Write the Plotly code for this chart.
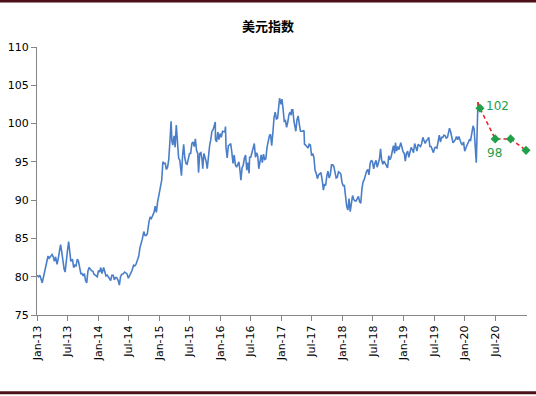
import plotly.graph_objects as go

# ---- data: US Dollar Index ----
dates_2013 = ["2013-01-02","2013-01-10","2013-01-18","2013-02-01","2013-02-08","2013-02-15","2013-02-22","2013-03-01","2013-03-08","2013-03-15","2013-03-22","2013-04-01","2013-04-08","2013-04-15","2013-04-22","2013-05-01","2013-05-08","2013-05-15","2013-05-22","2013-05-29","2013-06-05","2013-06-12","2013-06-18","2013-06-25","2013-07-01","2013-07-09","2013-07-15","2013-07-22","2013-08-01","2013-08-08","2013-08-15","2013-08-22","2013-08-30","2013-09-06","2013-09-13","2013-09-20","2013-09-27","2013-10-04","2013-10-11","2013-10-18","2013-10-25","2013-11-01","2013-11-08","2013-11-15","2013-11-22","2013-12-01","2013-12-08","2013-12-15","2013-12-27"]
dxy_2013 = [80.2,80.0,80.2,79.2,79.9,80.6,81.5,82.2,82.7,82.4,82.6,82.9,82.6,82.0,82.6,81.6,82.4,83.7,84.2,83.2,82.0,81.0,80.6,82.6,83.2,84.6,83.2,82.0,82.3,81.2,81.5,81.4,82.3,82.0,81.2,80.4,80.4,80.1,80.4,79.5,79.2,80.7,81.2,80.9,80.8,80.7,80.3,80.2,80.0]

dates_2014 = ["2014-01-03","2014-01-10","2014-01-17","2014-01-24","2014-02-03","2014-02-10","2014-02-17","2014-02-24","2014-03-03","2014-03-10","2014-03-17","2014-03-24","2014-04-01","2014-04-08","2014-04-15","2014-04-22","2014-05-01","2014-05-08","2014-05-15","2014-05-22","2014-06-01","2014-06-08","2014-06-15","2014-06-22","2014-07-01","2014-07-08","2014-07-15","2014-07-22","2014-08-01","2014-08-08","2014-08-15","2014-08-22","2014-09-01","2014-09-08","2014-09-15","2014-09-22","2014-10-01","2014-10-08","2014-10-15","2014-10-22","2014-11-01","2014-11-08","2014-11-15","2014-11-22","2014-12-01","2014-12-08","2014-12-15","2014-12-22"]
dxy_2014 = [80.8,80.6,81.2,80.4,81.2,80.5,80.1,80.2,80.0,79.7,79.5,80.2,80.2,79.6,79.9,79.9,79.5,78.9,80.0,80.3,80.4,80.6,80.5,80.4,79.8,80.1,80.5,80.8,81.5,81.4,81.6,82.2,82.7,83.8,84.3,84.9,85.9,85.4,85.4,85.6,87.2,87.8,87.6,88.0,88.4,89.2,88.4,89.7]

dates_2015 = ["2015-01-02","2015-01-09","2015-01-16","2015-01-23","2015-01-30","2015-02-06","2015-02-13","2015-02-20","2015-02-27","2015-03-06","2015-03-13","2015-03-18","2015-03-23","2015-03-31","2015-04-06","2015-04-13","2015-04-20","2015-04-27","2015-05-04","2015-05-14","2015-05-20","2015-05-27","2015-06-03","2015-06-10","2015-06-17","2015-06-24","2015-07-01","2015-07-08","2015-07-15","2015-07-22","2015-07-29","2015-08-05","2015-08-12","2015-08-19","2015-08-24","2015-08-31","2015-09-07","2015-09-14","2015-09-18","2015-09-25","2015-10-02","2015-10-09","2015-10-15","2015-10-22","2015-10-29","2015-11-05","2015-11-12","2015-11-19","2015-11-26","2015-12-02","2015-12-03","2015-12-10","2015-12-17","2015-12-24","2015-12-31"]
dxy_2015 = [91.1,92.0,92.6,95.0,94.8,94.8,94.0,94.3,95.3,97.7,100.3,97.7,97.2,98.4,96.9,99.8,97.4,95.5,95.2,93.2,95.6,97.3,95.5,94.8,94.7,95.7,96.1,96.1,97.4,97.6,97.0,98.0,96.5,96.1,93.6,96.1,96.2,95.3,94.1,96.1,95.6,95.0,94.1,96.1,97.1,97.9,99.0,99.2,99.8,100.2,97.9,97.6,98.9,97.9,98.7]

dates_2016 = ["2016-01-07","2016-01-14","2016-01-21","2016-01-28","2016-02-01","2016-02-04","2016-02-11","2016-02-18","2016-02-25","2016-03-03","2016-03-10","2016-03-17","2016-03-24","2016-03-31","2016-04-07","2016-04-14","2016-04-21","2016-04-28","2016-05-03","2016-05-10","2016-05-17","2016-05-24","2016-05-31","2016-06-07","2016-06-14","2016-06-21","2016-06-24","2016-07-01","2016-07-08","2016-07-15","2016-07-22","2016-07-29","2016-08-05","2016-08-12","2016-08-18","2016-08-25","2016-09-01","2016-09-08","2016-09-15","2016-09-22","2016-09-29","2016-10-06","2016-10-13","2016-10-20","2016-10-27","2016-11-03","2016-11-10","2016-11-17","2016-11-24","2016-12-01","2016-12-08","2016-12-15","2016-12-20","2016-12-29"]
dxy_2016 = [98.2,99.0,98.9,98.9,99.6,96.9,95.5,97.1,97.2,97.4,96.2,94.8,95.9,94.6,94.3,94.8,95.0,93.8,92.6,94.2,94.6,95.5,95.9,93.9,94.9,93.5,95.6,95.6,96.3,96.6,97.4,95.6,96.2,95.7,94.1,95.0,95.9,94.9,96.0,95.3,95.4,96.9,97.6,98.4,98.6,97.1,98.8,100.8,101.5,100.6,100.7,102.9,103.3,102.5]

dates_2017 = ["2017-01-03","2017-01-10","2017-01-17","2017-01-24","2017-01-31","2017-02-07","2017-02-14","2017-02-21","2017-02-28","2017-03-02","2017-03-09","2017-03-16","2017-03-23","2017-03-27","2017-04-03","2017-04-10","2017-04-17","2017-04-24","2017-05-01","2017-05-08","2017-05-15","2017-05-18","2017-05-25","2017-06-01","2017-06-08","2017-06-15","2017-06-22","2017-06-29","2017-07-06","2017-07-13","2017-07-20","2017-07-27","2017-08-03","2017-08-10","2017-08-17","2017-08-24","2017-08-31","2017-09-08","2017-09-14","2017-09-21","2017-09-28","2017-10-05","2017-10-12","2017-10-19","2017-10-26","2017-11-02","2017-11-09","2017-11-16","2017-11-23","2017-11-30","2017-12-07","2017-12-14","2017-12-21","2017-12-28"]
dxy_2017 = [103.2,101.9,100.3,100.4,99.5,100.2,101.2,101.5,101.1,101.8,101.8,100.3,99.7,99.0,100.5,101.0,99.9,99.0,99.0,99.0,99.1,97.3,97.2,96.9,96.8,97.3,97.2,95.8,96.1,95.6,93.9,93.5,92.8,93.3,93.5,93.6,92.7,91.3,92.1,91.9,93.1,93.8,92.9,93.3,94.6,94.6,94.4,93.8,92.9,93.0,93.7,93.6,93.4,92.3]

dates_2018 = ["2018-01-04","2018-01-11","2018-01-18","2018-01-25","2018-02-01","2018-02-08","2018-02-15","2018-02-22","2018-03-01","2018-03-08","2018-03-15","2018-03-22","2018-03-29","2018-04-05","2018-04-12","2018-04-19","2018-04-26","2018-05-03","2018-05-10","2018-05-17","2018-05-24","2018-05-31","2018-06-07","2018-06-14","2018-06-21","2018-06-28","2018-07-05","2018-07-12","2018-07-19","2018-07-26","2018-08-02","2018-08-09","2018-08-15","2018-08-22","2018-08-29","2018-09-05","2018-09-12","2018-09-19","2018-09-26","2018-10-03","2018-10-10","2018-10-17","2018-10-24","2018-10-31","2018-11-07","2018-11-12","2018-11-19","2018-11-26","2018-12-03","2018-12-10","2018-12-14","2018-12-21","2018-12-28"]
dxy_2018 = [91.9,91.9,90.5,89.2,88.7,90.2,88.5,89.9,90.6,90.1,89.9,89.9,90.2,90.5,89.8,89.6,91.5,92.4,92.7,93.5,93.8,94.0,93.3,94.8,95.2,95.0,94.1,94.8,95.2,94.3,95.1,95.4,96.7,95.2,94.7,95.1,94.8,94.5,94.2,95.8,95.3,95.6,96.3,97.1,96.1,97.5,96.4,97.0,96.6,97.2,97.5,96.9,96.3]

dates_2019 = ["2019-01-04","2019-01-10","2019-01-17","2019-01-24","2019-01-31","2019-02-07","2019-02-14","2019-02-21","2019-02-28","2019-03-07","2019-03-14","2019-03-21","2019-03-28","2019-04-04","2019-04-11","2019-04-18","2019-04-25","2019-05-02","2019-05-09","2019-05-16","2019-05-23","2019-05-30","2019-06-06","2019-06-13","2019-06-20","2019-06-27","2019-07-04","2019-07-11","2019-07-18","2019-07-25","2019-08-01","2019-08-08","2019-08-15","2019-08-22","2019-08-29","2019-09-05","2019-09-12","2019-09-19","2019-09-26","2019-10-01","2019-10-08","2019-10-15","2019-10-22","2019-10-29","2019-11-05","2019-11-12","2019-11-19","2019-11-26","2019-12-03","2019-12-10","2019-12-17","2019-12-24","2019-12-31"]
dxy_2019 = [96.1,95.1,96.1,96.4,95.6,96.5,96.9,96.6,96.2,97.4,96.8,96.4,97.3,97.1,97.0,97.4,98.2,97.8,97.4,97.8,97.9,98.2,97.0,97.0,96.6,96.2,96.8,96.9,96.8,97.7,98.5,97.6,98.2,98.2,98.5,98.4,98.1,98.2,99.1,99.4,98.9,98.3,97.5,97.7,97.9,98.3,97.9,98.3,97.7,97.4,97.2,97.6,96.4]

dates_2020 = ["2020-01-07","2020-01-14","2020-01-21","2020-01-28","2020-02-04","2020-02-11","2020-02-19","2020-02-25","2020-03-02","2020-03-09","2020-03-11","2020-03-13","2020-03-16","2020-03-18","2020-03-19"]
dxy_2020 = [96.9,97.2,97.5,97.9,97.8,98.7,99.7,99.3,97.4,94.9,96.5,98.7,98.0,101.3,102.8]

# forecast points
fc_dates = ["2020-03-31","2020-06-30","2020-09-30","2020-12-31"]
fc_values = [102, 98, 98, 96.5]

# axis ticks
x_tick_vals = ["2013-01-01","2013-07-01","2014-01-01","2014-07-01","2015-01-01","2015-07-01","2016-01-01","2016-07-01","2017-01-01","2017-07-01","2018-01-01","2018-07-01","2019-01-01","2019-07-01","2020-01-01","2020-07-01"]
x_tick_text = ["Jan-13","Jul-13","Jan-14","Jul-14","Jan-15","Jul-15","Jan-16","Jul-16","Jan-17","Jul-17","Jan-18","Jul-18","Jan-19","Jul-19","Jan-20","Jul-20"]
y_tick_vals = [75, 80, 85, 90, 95, 100, 105, 110]

title_text = "美元指数"

# ---- build ----
dates = dates_2013 + dates_2014 + dates_2015 + dates_2016 + dates_2017 + dates_2018 + dates_2019 + dates_2020
values = dxy_2013 + dxy_2014 + dxy_2015 + dxy_2016 + dxy_2017 + dxy_2018 + dxy_2019 + dxy_2020

fig = go.Figure()
fig.add_trace(go.Scatter(x=dates, y=values, mode="lines",
                         line=dict(color="#4a7ec8", width=1.6), hoverinfo="x+y"))
fig.add_trace(go.Scatter(x=[dates[-1]] + fc_dates, y=[values[-1]] + fc_values, mode="lines",
                         line=dict(color="#e0242c", width=1.5, dash="4px,3px"),
                         cliponaxis=False))
fig.add_trace(go.Scatter(x=fc_dates, y=fc_values, mode="markers",
                         marker=dict(symbol="diamond", size=7, color="#1fa049"),
                         cliponaxis=False))

fig.add_annotation(x="2020-04-25", y=102.3, text=str(fc_values[0]), showarrow=False,
                   xanchor="left", yanchor="middle",
                   font=dict(family="DejaVu Sans", size=12, color="#1fa049"))
fig.add_annotation(x="2020-04-28", y=96.2, text=str(fc_values[1]), showarrow=False,
                   xanchor="left", yanchor="middle",
                   font=dict(family="DejaVu Sans", size=12, color="#1fa049"))

border = "#4d1018"
for yy in [1.172, -0.29]:
    fig.add_shape(type="line", xref="paper", yref="paper",
                  x0=-0.08, x1=1.02, y0=yy, y1=yy,
                  line=dict(color=border, width=3))

fig.update_layout(
    width=536, height=396,
    margin=dict(l=37, r=9, t=47, b=81, autoexpand=False),
    paper_bgcolor="white", plot_bgcolor="white",
    showlegend=False,
    title=dict(text="<b>" + title_text + "</b>", x=0.5, xanchor="center",
               y=0.934, yanchor="middle",
               font=dict(family="Noto Sans CJK SC", size=13, color="black")),
    xaxis=dict(type="date", range=["2013-01-01", "2021-01-06"], automargin=False,
               tickmode="array", tickvals=x_tick_vals, ticktext=x_tick_text,
               tickangle=-90, ticks="outside", ticklen=5, tickcolor="#868686",
               showline=True, linecolor="#868686", linewidth=1,
               showgrid=False, zeroline=False,
               tickfont=dict(family="DejaVu Sans", size=11, color="black")),
    yaxis=dict(range=[75, 110], tickmode="array", tickvals=y_tick_vals, automargin=False,
               ticks="outside", ticklen=5, tickcolor="#868686",
               showline=True, linecolor="#868686", linewidth=1,
               showgrid=False, zeroline=False,
               tickfont=dict(family="DejaVu Sans", size=11, color="black")),
)

fig.write_html("out.html", config={"displayModeBar": False},
               post_script="document.body.style.margin='0';document.body.style.overflow='hidden';")
